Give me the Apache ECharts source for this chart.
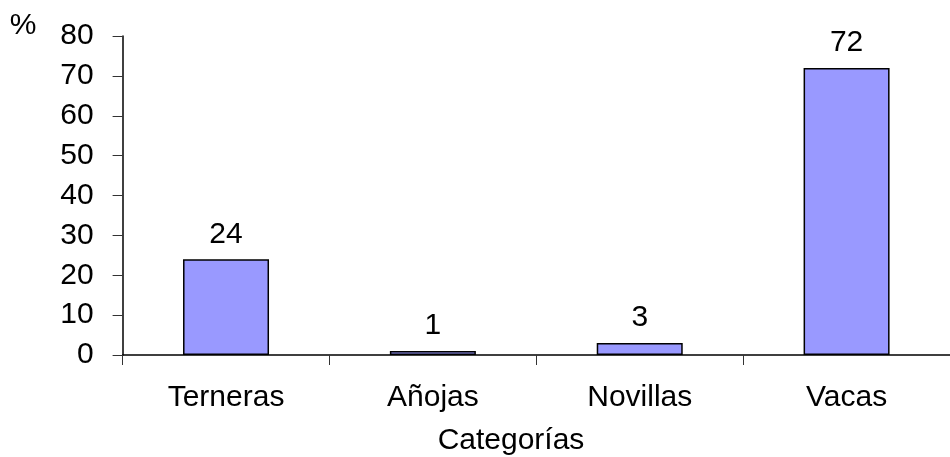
<!DOCTYPE html>
<html>
<head>
<meta charset="utf-8">
<script src="https://cdn.jsdelivr.net/npm/echarts@6/dist/echarts.min.js"></script>
<style>
  html, body { margin: 0; padding: 0; background: #fff; }
  #chart { width: 950px; height: 457px; }
</style>
</head>
<body>
<div id="chart"></div>
<script>
// Share of slaughtered animals by category (%)
const categories = ['Terneras', 'Añojas', 'Novillas', 'Vacas'];
const percentages = [24, 1, 3, 72];
const yTicks = { min: 0, max: 80, step: 10 };

const FONT = 'Liberation Sans, Arial, sans-serif';
const FS = 30;
const chart = echarts.init(document.getElementById('chart'), null, { renderer: 'canvas' });

chart.setOption({
  animation: false,
  backgroundColor: '#ffffff',
  textStyle: { fontFamily: FONT, color: '#000' },
  grid: { left: 122.6, right: -11, top: 36, bottom: 102, containLabel: false },
  xAxis: {
    type: 'category',
    data: categories,
    axisLine: { show: true, lineStyle: { color: '#000', width: 1.5 } },
    axisTick: { show: true, length: 10, alignWithLabel: false, lineStyle: { color: '#333', width: 1 } },
    axisLabel: { fontSize: FS, color: '#000', margin: 28, fontFamily: FONT },
    splitLine: { show: false }
  },
  yAxis: {
    type: 'value',
    min: yTicks.min,
    max: yTicks.max,
    interval: yTicks.step,
    axisLine: { show: true, lineStyle: { color: '#000', width: 1.5 } },
    axisTick: { show: true, length: 10, lineStyle: { color: '#333', width: 1 } },
    axisLabel: { fontSize: FS, color: '#000', margin: 29, fontFamily: FONT },
    splitLine: { show: false }
  },
  graphic: [
    {
      type: 'text', x: 23, y: 26,
      style: { text: '%', fontSize: FS, fontFamily: FONT, fill: '#000', align: 'center', verticalAlign: 'middle' }
    },
    {
      type: 'text', x: 511, y: 441,
      style: { text: 'Categorías', fontSize: FS, fontFamily: FONT, fill: '#000', align: 'center', verticalAlign: 'middle' }
    }
  ],
  series: [{
    type: 'bar',
    data: percentages,
    barWidth: 86,
    itemStyle: { color: '#9999ff', borderColor: '#000', borderWidth: 1.5 },
    label: { show: true, position: 'top', distance: 10, fontSize: FS, color: '#000', fontFamily: FONT }
  }]
});
</script>
</body>
</html>
